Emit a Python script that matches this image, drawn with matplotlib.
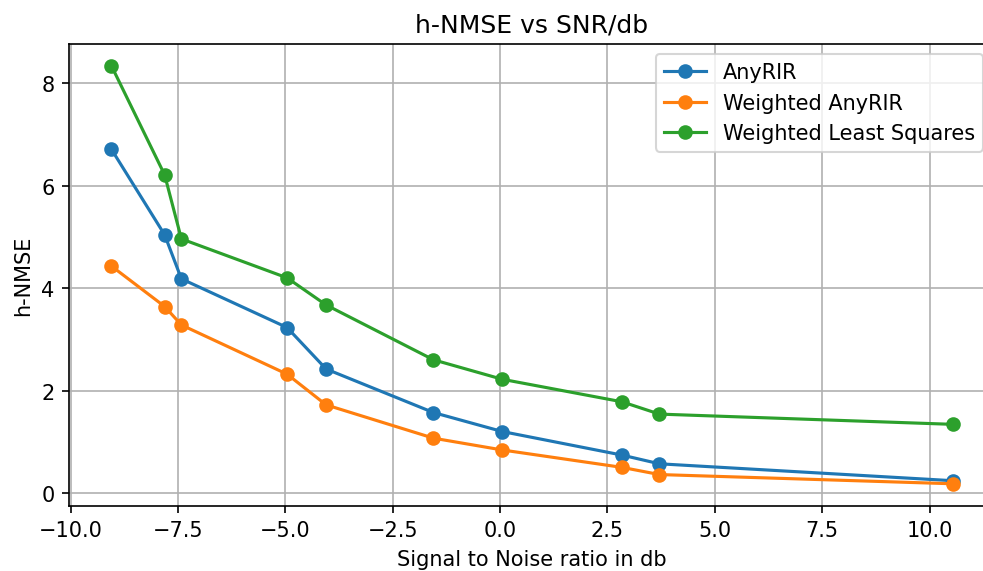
import matplotlib
matplotlib.use("Agg")
import matplotlib.pyplot as plt

snr = [-9.05, -7.81, -7.42, -4.96, -4.05, -1.55, 0.05, 2.84, 3.71, 10.54]
anyrir = [6.71, 5.04, 4.18, 3.23, 2.42, 1.57, 1.20, 0.74, 0.57, 0.24]
weighted_anyrir = [4.43, 3.64, 3.28, 2.32, 1.72, 1.07, 0.84, 0.50, 0.36, 0.18]
weighted_ls = [8.34, 6.21, 4.96, 4.20, 3.67, 2.60, 2.22, 1.78, 1.54, 1.34]

# original looks like a default figure saved at 150 dpi, cropped on the right
fig = plt.figure(figsize=(6.56, 3.8133), dpi=150)
ax = fig.add_axes([69.3 / 984, 1 - 506.7 / 572, (993.5 - 69.3) / 984, (506.7 - 44.7) / 572])
ax.plot(snr, anyrir, marker="o", label="AnyRIR")
ax.plot(snr, weighted_anyrir, marker="o", label="Weighted AnyRIR")
ax.plot(snr, weighted_ls, marker="o", label="Weighted Least Squares")
ax.set_xlim(-10.03, 11.49)
ax.set_ylim(-0.248, 8.77)
ax.spines["right"].set_visible(False)
ax.grid(True)
ax.set_title("h-NMSE vs SNR/db")
ax.set_xlabel("Signal to Noise ratio in db")
ax.set_ylabel("h-NMSE")
ax.legend(loc="upper right")
fig.savefig("out.png", dpi=150)
